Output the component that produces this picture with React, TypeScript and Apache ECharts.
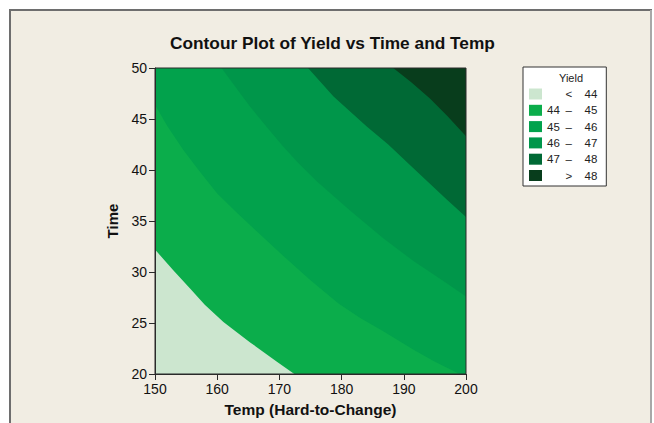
import React, { useEffect, useRef } from "react";
import * as echarts from "echarts";

// Axis domain
const tempRange: [number, number] = [150, 200];
const timeRange: [number, number] = [20, 50];

// Legend / levels
const levelNames = ["< 44", "44 – 45", "45 – 46", "46 – 47", "47 – 48", "> 48"];
const legendLow = ["", "44", "45", "46", "47", ""];
const legendSep = ["<", "–", "–", "–", "–", ">"];
const legendHigh = ["44", "45", "46", "47", "48", "48"];
const levelColors = ["#cce6cf", "#0bad4b", "#02a24c", "#00964a", "#006935", "#083d1c"];

// Contour boundary lines [temp, time]
const line44 = [
  [150, 32.2], [152.9, 30.2], [155.6, 28.4], [158, 26.8], [161, 25.1],
  [165.3, 23.1], [169.6, 21.2], [172.4, 20],
];
const line45 = [
  [150, 46.4], [152, 44.3], [154.5, 42.0], [157, 40.0], [160, 37.7], [163, 35.9],
  [166, 34.2], [170.6, 31.6], [175, 29.2], [179.5, 26.9], [183, 25.5], [186.7, 24.2],
  [191.5, 22.4], [195, 21.2], [199, 20],
];
const line46 = [
  [160.7, 50], [163, 48.1], [165.3, 46.2], [168, 44.2], [170.6, 42.3], [173, 40.7],
  [176, 38.9], [181.4, 36.0], [186.7, 33.3], [191.5, 31.1], [196.9, 28.9], [200, 27.6],
];
const line47 = [
  [174.6, 50], [178.7, 47.2], [184, 44.3], [187.5, 42.5], [191.5, 40.2],
  [196.9, 37.1], [200, 35.4],
];
const line48 = [
  [188.3, 50], [191.2, 48.6], [194.2, 47.0], [197, 45.3], [200, 43.3],
];
const boundaries = [line44, line45, line46, line47, line48];

function regionAbove(line: number[][]): number[][] {
  const [x0, x1] = tempRange;
  const [y0, y1] = timeRange;
  const pts = line.slice();
  const start = line[0];
  const end = line[line.length - 1];
  if (end[1] === y0) pts.push([x1, y0]);
  pts.push([x1, y1]);
  if (start[0] === x0) pts.push([x0, y1]);
  return pts;
}

const regions: number[][][] = [
  [[tempRange[0], timeRange[0]], [tempRange[1], timeRange[0]], [tempRange[1], timeRange[1]], [tempRange[0], timeRange[1]]],
  ...boundaries.map(regionAbove),
];

const FONT = "Liberation Sans";

export default function App() {
  const ref = useRef<HTMLDivElement>(null);
  useEffect(() => {
    if (!ref.current) return;
    const chart = echarts.init(ref.current, undefined, { renderer: "svg" });
    const series: any[] = levelNames.map((name, i) => ({
      type: "custom",
      name,
      coordinateSystem: "cartesian2d",
      z: 2 + i * 0.01,
      itemStyle: { color: levelColors[i] },
      data: [[tempRange[0], timeRange[0]]],
      renderItem: (_p: any, api: any) => ({
        type: "polygon",
        shape: { points: regions[i].map((p) => api.coord(p)), smooth: 0 },
        style: { fill: levelColors[i], stroke: "none" },
      }),
      silent: true,
    }));
    series.push({
      type: "custom",
      name: "frame",
      coordinateSystem: "cartesian2d",
      z: 5,
      data: [[tempRange[0], timeRange[0]]],
      renderItem: (_p: any, api: any) => {
        const a = api.coord([tempRange[0], timeRange[1]]);
        const b = api.coord([tempRange[1], timeRange[0]]);
        return {
          type: "rect",
          shape: { x: a[0], y: a[1], width: b[0] - a[0], height: b[1] - a[1] },
          style: { fill: "none", stroke: "#2a2a2a", lineWidth: 1 },
        };
      },
      silent: true,
    });

    chart.setOption({
      animation: false,
      backgroundColor: "transparent",
      textStyle: { fontFamily: FONT },
      graphic: [
        {
          type: "rect",
          z: -10,
          shape: { x: 10, y: 10, width: 641, height: 430 },
          style: { fill: "#f1ede3", stroke: "#6e6e6e", lineWidth: 2 },
        },
        {
          type: "line",
          z: -9,
          shape: { x1: 651, y1: 10, x2: 651, y2: 423 },
          style: { stroke: "#a8a8a8", lineWidth: 2 },
        },
        {
          type: "text",
          z: 20,
          x: 571,
          y: 78,
          style: {
            text: "Yield",
            fontFamily: FONT,
            fontSize: 11,
            fill: "#222",
            textAlign: "center",
            textVerticalAlign: "middle",
          },
        },
      ],
      title: {
        text: "Contour Plot of Yield vs Time and Temp",
        left: 165,
        top: 29,
        textStyle: { fontFamily: FONT, fontWeight: "bold", fontSize: 17.3, color: "#111" },
      },
      grid: { left: 155, top: 68, right: 188, bottom: 49, containLabel: false },
      legend: {
        data: levelNames,
        left: 523,
        top: 67,
        orient: "vertical",
        icon: "rect",
        itemWidth: 13,
        itemHeight: 11,
        itemGap: 4.3,
        padding: [21, 9, 4.5, 6],
        backgroundColor: "#ffffff",
        borderColor: "#333",
        borderWidth: 1,
        borderRadius: 0,
        selectedMode: false,
        formatter: (name: string) => {
          const i = levelNames.indexOf(name);
          return `{a|${legendLow[i]}}{b|${legendSep[i]}}{c|${legendHigh[i]}}`;
        },
        textStyle: {
          fontFamily: FONT,
          fontSize: 11.5,
          color: "#222",
          rich: {
            a: { width: 12.8, align: "right", fontSize: 11.5, fontFamily: FONT, lineHeight: 11 },
            b: { width: 18, align: "center", fontSize: 11.5, fontFamily: FONT, lineHeight: 11 },
            c: { width: 19.5, align: "right", fontSize: 11.5, fontFamily: FONT, lineHeight: 11 },
          },
        },
      },
      xAxis: {
        type: "value",
        min: tempRange[0],
        max: tempRange[1],
        interval: 10,
        z: 10,
        name: "Temp (Hard-to-Change)",
        nameLocation: "middle",
        nameGap: 27,
        nameTextStyle: { fontFamily: FONT, fontWeight: "bold", fontSize: 15.5, color: "#111" },
        axisLine: { show: true, lineStyle: { color: "#2a2a2a", width: 1 } },
        axisTick: { show: true, length: 6, lineStyle: { color: "#2a2a2a" } },
        axisLabel: { margin: 8, fontFamily: FONT, fontSize: 14, color: "#111" },
        splitLine: { show: false },
      },
      yAxis: {
        type: "value",
        min: timeRange[0],
        max: timeRange[1],
        interval: 5,
        z: 10,
        name: "Time",
        nameLocation: "middle",
        nameGap: 35,
        nameTextStyle: { fontFamily: FONT, fontWeight: "bold", fontSize: 15, color: "#111" },
        axisLine: { show: true, lineStyle: { color: "#2a2a2a", width: 1 } },
        axisTick: { show: true, length: 6, lineStyle: { color: "#2a2a2a" } },
        axisLabel: { margin: 8, fontFamily: FONT, fontSize: 14, color: "#111" },
        splitLine: { show: false },
      },
      series,
    });
    return () => chart.dispose();
  }, []);
  return (
    <div style={{ position: "absolute", left: 0, top: 0, width: 654, height: 423, background: "#ffffff" }}>
      <div ref={ref} style={{ width: 654, height: 423 }} />
    </div>
  );
}
